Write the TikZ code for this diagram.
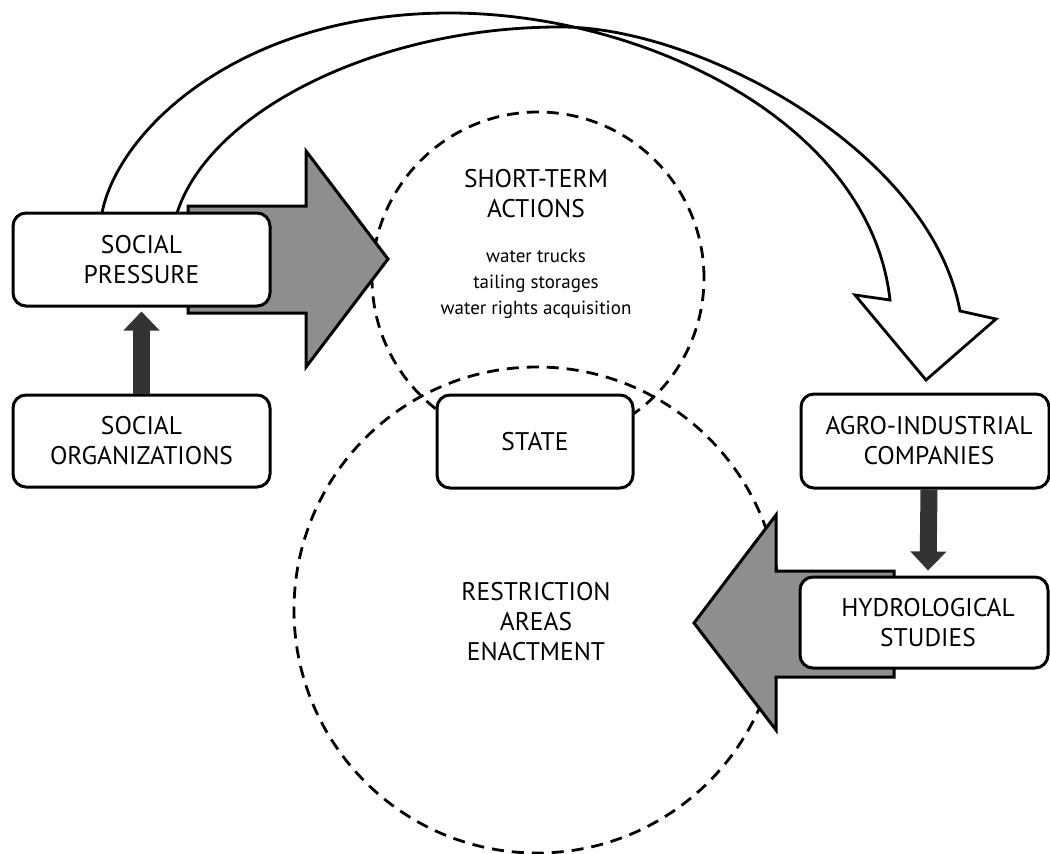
\documentclass[tikz,border=0pt]{standalone}
\usepackage{fontspec}
\setmainfont{PT Sans}
\usetikzlibrary{arrows.meta}
\definecolor{arrowgray}{HTML}{8E8E8E}
\definecolor{darkarrow}{HTML}{333333}
\begin{document}
\begin{tikzpicture}[x=1pt,y=-1pt,
  box/.style={draw, line width=3pt, rounded corners=13pt, fill=white, align=center, inner sep=0pt, font=\fontsize{25.5}{30}\selectfont},
  ring/.style={draw, circle, dash pattern=on 12pt off 8pt, line width=2.8pt, inner sep=0pt},
  blockarrow/.style={draw, line width=3pt, fill=arrowgray, line join=miter},
  curvearrow/.style={draw, line width=2.8pt, line join=miter},
  solidarrow/.style={darkarrow, line width=17pt, -{Triangle[width=35pt,length=19pt]}},
  big/.style={font=\fontsize{25.5}{30}\selectfont, align=center, inner sep=0pt},
  small/.style={font=\fontsize{19}{26}\selectfont, align=center, inner sep=0pt}]
\useasboundingbox (0,0) rectangle (1050,854);

% dashed circles
\node[ring, minimum size=332pt] (stc) at (538,278) {};
\node[ring, minimum size=486pt] (rc) at (537,610) {};

% curved white arrow
\draw[curvearrow] (102,213) .. controls (118,130) and (240,14) .. (447,13)
  .. controls (640,12) and (870,120) .. (890,300)
  -- (855,295) -- (926,380) -- (996,319) -- (960,311)
  .. controls (930,150) and (700,28) .. (563,27)
  .. controls (380,26) and (210,110) .. (177,213);

% gray block arrows
\draw[blockarrow] (188,206) -- (306,206) -- (306,151) -- (388,259) -- (306,367) -- (306,313) -- (188,313) -- cycle;
\draw[blockarrow] (894,571) -- (776,571) -- (776,515) -- (694,623) -- (776,730) -- (776,677) -- (894,677) -- cycle;

% boxes
\node[box, minimum width=257pt, minimum height=93pt] (sp) at (141.5,259.5) {SOCIAL\\PRESSURE};
\node[box, minimum width=257pt, minimum height=92pt] (so) at (141.5,441) {SOCIAL\\ORGANIZATIONS};
\node[box, minimum width=196pt, minimum height=93pt] (state) at (535,441.5) {STATE};
\node[box, minimum width=248pt, minimum height=94pt] (agro) at (925,441) {\hspace*{8pt}AGRO-INDUSTRIAL\\\hspace*{8pt}COMPANIES};
\node[box, minimum width=248pt, minimum height=91pt] (hydro) at (924,622.5) {\hspace*{8pt}HYDROLOGICAL\\\hspace*{8pt}STUDIES};

% solid arrows
\draw[solidarrow, shorten >=4pt] (so.north) -- (sp.south);
\draw[solidarrow, shorten >=5pt] ([xshift=4pt]agro.south) -- ([xshift=4pt]hydro.north);

% texts in circles
\node[big] (stt) at (536,194) {SHORT-TERM\\ACTIONS};
\node[small] (stl) at (536,284) {water trucks\\tailing storages\\water rights acquisition};
\node[big] (rct) at (536,622) {RESTRICTION\\AREAS\\ENACTMENT};
\end{tikzpicture}
\end{document}
